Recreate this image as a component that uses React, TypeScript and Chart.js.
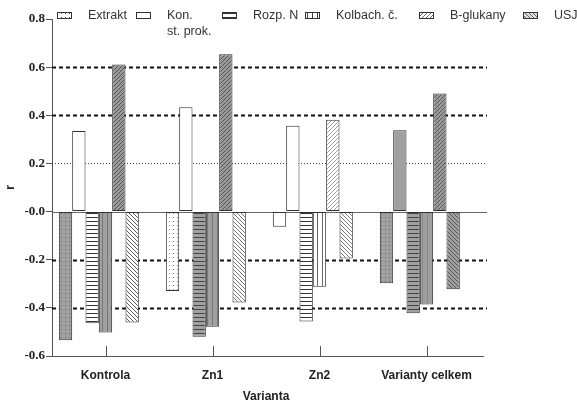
import React, { useEffect, useRef } from 'react';
import { Chart, registerables } from 'chart.js';

Chart.register(...registerables);

const categories = ['Kontrola', 'Zn1', 'Zn2', 'Varianty celkem'];
const seriesNames: (string | string[])[] = ['Extrakt', ['Kon.', 'st. prok.'], 'Rozp. N', 'Kolbach. č.', 'B-glukany', 'USJ'];

const extrakt = [-0.535, -0.33, -0.063, -0.298];
const konStProk = [0.335, 0.433, 0.357, 0.338];
const rozpN = [-0.464, -0.52, -0.457, -0.422];
const kolbach = [-0.502, -0.479, -0.312, -0.386];
const bGlukany = [0.611, 0.654, 0.381, 0.49];
const usj = [-0.461, -0.378, -0.195, -0.323];

const yTickValues = [-0.6, -0.4, -0.2, 0, 0.2, 0.4, 0.6, 0.8];
const yTickLabels = ['-0.6', '-0.4', '-0.2', '-0.0', '0.2', '0.4', '0.6', '0.8'];
const dashedLevels = [0.6, 0.4, -0.2, -0.4];
const dottedLevels = [0.2];

const GRAY = '#a0a0a0';
const DGRAY = '#9a9a9a';
type St = [string, string, string?];
const barStyles: St[][] = [
  [[GRAY, 'dots', '#666'], ['#fff', 'dots', '#888'], ['#fff', 'none'], [GRAY, 'dots', '#666']],
  [['#fff', 'none'], ['#fff', 'none'], ['#fff', 'none'], [GRAY, 'none']],
  [['#fff', 'h', '#333'], [GRAY, 'h', '#444'], ['#fff', 'h', '#333'], [GRAY, 'h', '#444']],
  [[GRAY, 'v', '#777'], [GRAY, 'v', '#777'], ['#fff', 'v', '#666'], [GRAY, 'v', '#888']],
  [[DGRAY, 'd1', '#444'], [DGRAY, 'd1', '#444'], ['#fff', 'd1', '#888'], [DGRAY, 'd1', '#444']],
  [['#fff', 'd2', '#333'], ['#fff', 'd2', '#555'], ['#fff', 'd2', '#555'], [GRAY, 'd2', '#444']],
];
const legendStyles: St[] = [
  ['#fff', 'dots', '#555'], ['#fff', 'none'], ['#fff', 'h', '#333'], ['#fff', 'v', '#444'], ['#fff', 'd1', '#444'], ['#ddd', 'd2', '#444'],
];
const legendBoxX = [57, 136, 222, 305, 419, 523];

function makePattern(bg: string, kind: string, fg = '#333'): any {
  if (kind === 'none') return bg;
  const s = kind === 'v' ? 5 : 4;
  const c = document.createElement('canvas');
  c.width = s; c.height = s;
  const g = c.getContext('2d')!;
  g.fillStyle = bg; g.fillRect(0, 0, s, s);
  g.fillStyle = fg; g.strokeStyle = fg; g.lineWidth = 0.8;
  if (kind === 'dots') g.fillRect(1, 1, 1, 1);
  if (kind === 'h') g.fillRect(0, 1, s, 1);
  if (kind === 'v') g.fillRect(2, 0, 1, s);
  if (kind === 'd1') {
    g.beginPath();
    g.moveTo(0, s); g.lineTo(s, 0);
    g.moveTo(-1, 1); g.lineTo(1, -1);
    g.moveTo(s - 1, s + 1); g.lineTo(s + 1, s - 1);
    g.stroke();
  }
  if (kind === 'd2') {
    g.beginPath();
    g.moveTo(0, 0); g.lineTo(s, s);
    g.moveTo(s - 1, -1); g.lineTo(s + 1, 1);
    g.moveTo(-1, s - 1); g.lineTo(1, s + 1);
    g.stroke();
  }
  return g.createPattern(c, 'repeat');
}

export default function App() {
  const ref = useRef<HTMLCanvasElement>(null);
  useEffect(() => {
    const series = [extrakt, konStProk, rozpN, kolbach, bGlukany, usj];
    const datasets: any[] = series.map((d, i) => ({
      label: Array.isArray(seriesNames[i]) ? (seriesNames[i] as string[]).join(' ') : seriesNames[i],
      data: d,
      backgroundColor: barStyles[i].map((s) => makePattern(s[0], s[1], s[2])),
      borderColor: '#333',
      borderWidth: 1,
      borderSkipped: false,
    }));
    datasets.push({ label: '', data: [null, null, null, null], backgroundColor: 'transparent' });
    const legendFills = legendStyles.map((s) => makePattern(s[0], s[1], s[2]));

    const decor = {
      id: 'decor',
      beforeDatasetsDraw(chart: any) {
        const { ctx, chartArea, scales } = chart;
        const y = scales.y;
        ctx.save();
        const right = chartArea.right + 7;
        dashedLevels.forEach((v) => {
          const py = Math.round(y.getPixelForValue(v)) + 0.5;
          ctx.strokeStyle = '#111'; ctx.lineWidth = 2; ctx.setLineDash([4, 3]);
          ctx.beginPath(); ctx.moveTo(chartArea.left, py); ctx.lineTo(right, py); ctx.stroke();
        });
        dottedLevels.forEach((v) => {
          const py = Math.round(y.getPixelForValue(v)) + 0.5;
          ctx.strokeStyle = '#444'; ctx.lineWidth = 1; ctx.setLineDash([1, 2]);
          ctx.beginPath(); ctx.moveTo(chartArea.left, py); ctx.lineTo(right, py); ctx.stroke();
        });
        const pz = Math.round(y.getPixelForValue(0)) + 0.5;
        ctx.setLineDash([]); ctx.strokeStyle = '#666'; ctx.lineWidth = 1;
        ctx.beginPath(); ctx.moveTo(chartArea.left, pz); ctx.lineTo(right, pz); ctx.stroke();
        ctx.restore();
      },
      afterDraw(chart: any) {
        const { ctx, chartArea, scales } = chart;
        const x = scales.x;
        ctx.save();
        ctx.strokeStyle = '#555'; ctx.lineWidth = 1; ctx.setLineDash([]);
        const pb = Math.round(chartArea.bottom) + 0.5;
        ctx.beginPath(); ctx.moveTo(chartArea.left, pb); ctx.lineTo(chartArea.right + 4, pb); ctx.stroke();
        categories.forEach((_, i) => {
          const px = Math.round(x.getPixelForValue(i)) + 0.5;
          ctx.beginPath(); ctx.moveTo(px, chartArea.bottom - 10); ctx.lineTo(px, chartArea.bottom); ctx.stroke();
        });
        // legend
        ctx.font = '12.5px "Liberation Sans", Arial, sans-serif';
        ctx.textBaseline = 'middle';
        ctx.textAlign = 'left';
        seriesNames.forEach((name, i) => {
          const bx = legendBoxX[i];
          ctx.fillStyle = legendFills[i];
          ctx.fillRect(bx, 12, 14, 6);
          ctx.strokeStyle = '#333';
          ctx.strokeRect(bx + 0.5, 12.5, 14, 6);
          ctx.fillStyle = '#333';
          const lines = Array.isArray(name) ? name : [name];
          lines.forEach((l, k) => ctx.fillText(l, bx + 31, 15.5 + k * 16));
        });
        ctx.restore();
      },
    };

    const chart = new Chart(ref.current!, {
      type: 'bar',
      data: { labels: categories, datasets },
      options: {
        animation: false,
        responsive: false,
        layout: { padding: { top: 19, right: 97, left: 0, bottom: 0 } },
        plugins: { legend: { display: false }, tooltip: { enabled: false } },
        datasets: { bar: { barPercentage: 1, categoryPercentage: 0.872 } },
        scales: {
          x: {
            afterFit: (s: any) => { s.height = 48; },
            grid: { display: false, drawTicks: false },
            border: { display: false },
            ticks: { padding: 12, color: '#222', font: { family: '"Liberation Sans", Arial, sans-serif', size: 12, weight: 'bold' }, maxRotation: 0 },
            title: { display: true, text: 'Varianta', color: '#222', padding: { top: 0, bottom: 0 }, font: { family: '"Liberation Sans", Arial, sans-serif', size: 12, weight: 'bold' } },
          },
          y: {
            min: -0.6,
            max: 0.8,
            afterFit: (s: any) => { s.width = 52; },
            afterBuildTicks: (s: any) => { s.ticks = yTickValues.map((v) => ({ value: v })); },
            grid: { drawOnChartArea: false, drawTicks: true, tickLength: 6, color: '#555' },
            border: { display: true, color: '#555', width: 1 },
            ticks: {
              padding: 1,
              color: '#222',
              font: { family: '"Liberation Serif", "DejaVu Serif", serif', size: 13, weight: 'bold' },
              callback: (v: any) => {
                const i = yTickValues.findIndex((t) => Math.abs(t - Number(v)) < 1e-6);
                return i >= 0 ? yTickLabels[i] : '';
              },
            },
            title: { display: true, text: 'r', color: '#222', padding: { top: 3, bottom: 0 }, font: { family: '"Liberation Sans", Arial, sans-serif', size: 12, weight: 'bold' } },
          },
        },
      } as any,
      plugins: [decor],
    });
    return () => chart.destroy();
  }, []);
  return (
    <div style={{ position: 'fixed', left: 0, top: 0, width: 577, height: 404, background: '#fff' }}>
      <canvas ref={ref} width={577} height={404} style={{ display: 'block' }} />
    </div>
  );
}
